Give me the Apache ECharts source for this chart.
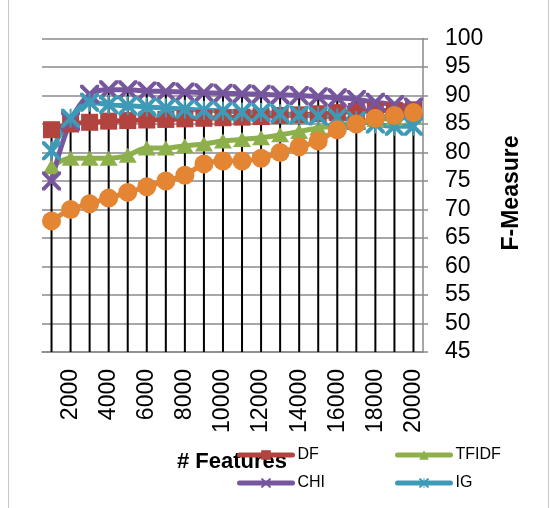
<!DOCTYPE html>
<html><head><meta charset="utf-8">
<script src="https://cdn.jsdelivr.net/npm/echarts@6/dist/echarts.min.js"></script>
<style>html,body{margin:0;padding:0;background:#fff}#c{width:551px;height:508px}</style>
</head><body><div id="c"></div>
<script>
const categories = ['1000','2000','3000','4000','5000','6000','7000','8000','9000','10000','11000','12000','13000','14000','15000','16000','17000','18000','19000','20000'];
const yTicks = [45,50,55,60,65,70,75,80,85,90,95,100];
const dfValues    = [84, 85, 85.3, 85.5, 85.6, 85.7, 85.8, 85.9, 86, 86.1, 86.2, 86.3, 86.5, 86.6, 86.8, 87, 87.2, 87.3, 87.4, 87.5];
const tfidfValues = [77.5, 79, 79, 79, 79.5, 80.8, 80.8, 81.2, 81.5, 82, 82.3, 82.6, 83.1, 83.7, 84.3, 84.7, 85.3, 85.8, 86, 86.3];
const chiValues   = [75, 85.5, 90.2, 91, 91, 90.8, 90.7, 90.6, 90.5, 90.4, 90.3, 90.2, 90.1, 90, 89.8, 89.6, 89.3, 88.8, 88.4, 88];
const igValues    = [80.3, 86, 88.8, 88.4, 88.2, 88, 87.8, 87.6, 87.4, 87.3, 87.1, 87, 86.8, 86.6, 86.4, 86.1, 85.6, 85, 84.6, 84.6];
const otherValues = [68, 70, 71, 72, 73, 74, 75, 76, 78, 78.5, 78.5, 79, 80, 81, 82, 84, 85, 86, 86.5, 87];

const FONT = 'Liberation Sans';
const xPath = 'path://M0,0 L3,0 L10,7 L17,0 L20,0 L20,3 L13,10 L20,17 L20,20 L17,20 L10,13 L3,20 L0,20 L0,17 L7,10 L0,3 Z';
const starPath = 'path://M0,0 L3,0 L10,7 L17,0 L20,0 L20,3 L13,10 L20,17 L20,20 L17,20 L10,13 L3,20 L0,20 L0,17 L7,10 L0,3 Z M9,0 L11,0 L11,20 L9,20 Z';

const dropTops = categories.map((_, i) => Math.max(dfValues[i], tfidfValues[i], chiValues[i], igValues[i], otherValues[i]));

const chart = echarts.init(document.getElementById('c'), null, {renderer: 'canvas'});
function lineSeries(name, data, color, symbol, size, width) {
  return {
    name, type: 'line', data, smooth: 0.35, z: 3,
    symbol, symbolSize: size, showSymbol: true, showAllSymbol: true,
    lineStyle: {color, width: width},
    itemStyle: {color, borderWidth: 0},
    emphasis: {disabled: true}
  };
}
const legendCommon = {orient: 'vertical', top: 447, padding: 0, itemWidth: 53, itemHeight: 12, itemGap: 12,
  textStyle: {fontSize: 16, color: '#000', fontFamily: FONT},
  lineStyle: {width: 5, cap: 'round'}, itemStyle: {borderWidth: 0}};
chart.setOption({
  animation: false,
  backgroundColor: '#fff',
  textStyle: {fontFamily: FONT, color: '#000'},
  grid: {left: 42, right: 128, top: 38.5, bottom: 156},
  xAxis: {
    type: 'category', data: categories, boundaryGap: true,
    axisLine: {lineStyle: {color: '#8a8a8a', width: 1.5}},
    axisTick: {show: false},
    splitLine: {show: false},
    axisLabel: {
      rotate: 90, margin: 17, fontSize: 23, color: '#000', fontFamily: FONT,
      interval: (i) => i % 2 === 1
    }
  },
  yAxis: {
    type: 'value', position: 'right', min: yTicks[0], max: yTicks[yTicks.length-1], interval: 5,
    axisLine: {show: true, lineStyle: {color: '#8a8a8a', width: 1.5}},
    axisTick: {show: true, inside: false, length: 5, lineStyle: {color: '#8a8a8a', width: 1.5}},
    splitLine: {show: true, lineStyle: {color: '#8a8a8a', width: 1.5}},
    axisLabel: {margin: 22, fontSize: 23, color: '#000', fontFamily: FONT}
  },
  legend: [
    Object.assign({data: ['DF', 'CHI'], left: 237}, legendCommon),
    Object.assign({data: ['TFIDF', 'IG'], left: 395}, legendCommon)
  ],
  graphic: [
    {type: 'rect', shape: {x: 8.5, y: -5, width: 540, height: 520}, style: {fill: 'none', stroke: '#c8c8c8', lineWidth: 1}, z: -1, silent: true},
    {type: 'text', x: 232, y: 462, z: 0, style: {text: '# Features', font: 'bold 22px "Liberation Sans"', fill: '#000', align: 'center', verticalAlign: 'middle'}},
    {type: 'text', x: 512, y: 193, rotation: Math.PI/2, z: 0, style: {text: 'F-Measure', font: 'bold 23px "Liberation Sans"', fill: '#000', align: 'center', verticalAlign: 'middle'}}
  ],
  series: [
    {name: 'drop', type: 'bar', data: dropTops, barWidth: 2, z: 1, clip: true, itemStyle: {color: '#000'}, silent: true},
    lineSeries('DF', dfValues, '#B3433F', 'rect', 17, 5),
    lineSeries('TFIDF', tfidfValues, '#8DB04C', 'triangle', [18, 15], 5),
    lineSeries('CHI', chiValues, '#76569D', xPath, 19, 5),
    lineSeries('IG', igValues, '#3E9BB8', starPath, 19, 5),
    lineSeries('Series5', otherValues, '#E38532', 'circle', 19, 5)
  ]
});
</script></body></html>
